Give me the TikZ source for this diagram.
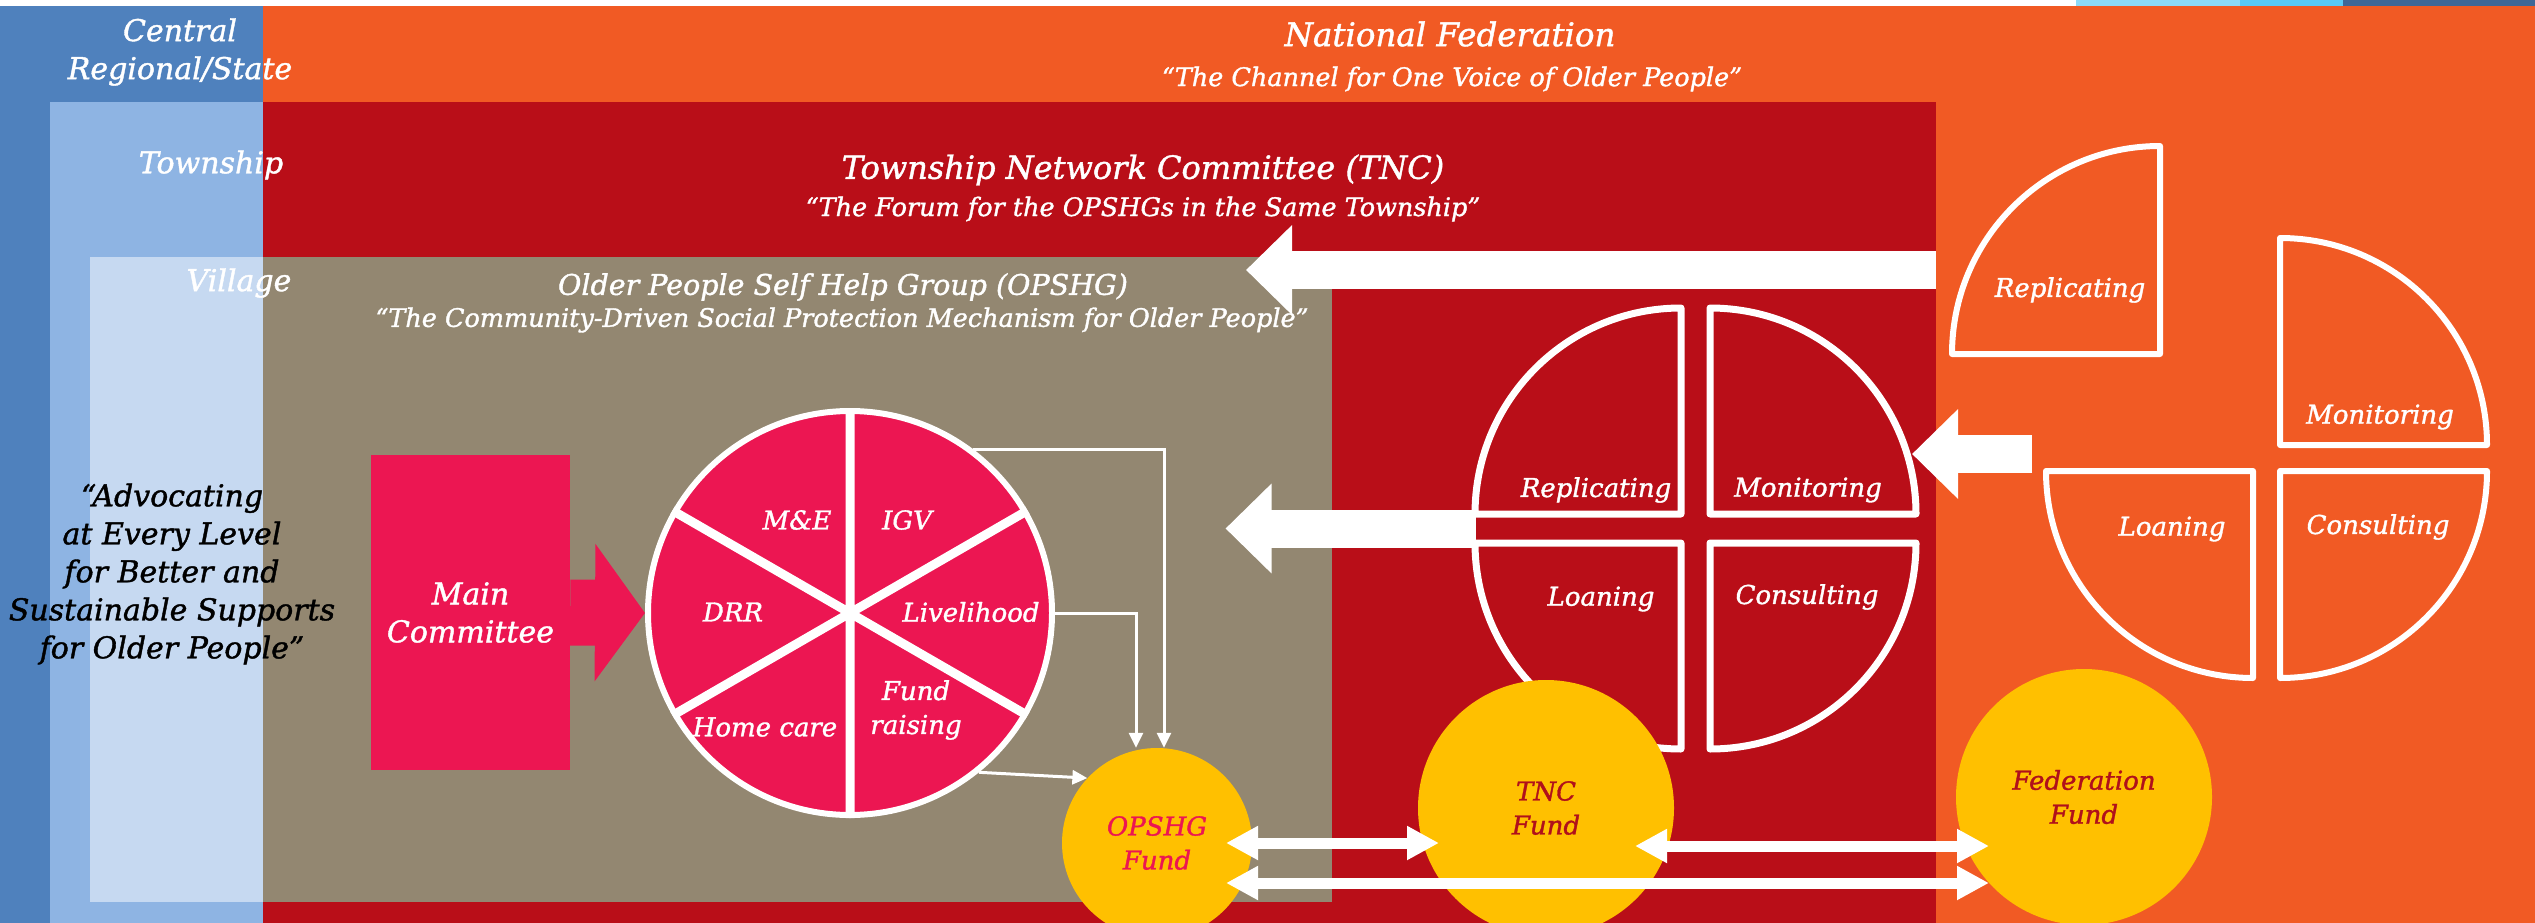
\documentclass[tikz,border=0pt]{standalone}
\usepackage{fontspec}
\setmainfont{DejaVu Serif}[ItalicFeatures={FakeBold=1.3}]
\usetikzlibrary{arrows.meta,calc}

\definecolor{darkblue}{HTML}{4F81BD}
\definecolor{midblue}{HTML}{8EB4E3}
\definecolor{lightblue}{HTML}{C6D9F1}
\definecolor{fedorange}{HTML}{F15A24}
\definecolor{tncred}{HTML}{B90E18}
\definecolor{taupe}{HTML}{938771}
\definecolor{pink}{HTML}{EC1652}
\definecolor{gold}{HTML}{FFC000}
\definecolor{fundred}{HTML}{B0101B}

\begin{document}
\begin{tikzpicture}[x=1pt, y=1pt, yscale=-1,
    txt/.style={inner sep=0pt, text=white, align=center, font=\itshape\fontsize{30}{38}\selectfont},
    smalltxt/.style={txt, font=\itshape\fontsize{26}{34}\selectfont},
    quotetxt/.style={txt, font=\itshape\fontsize{25.5}{30}\selectfont},
    quadline/.style={draw=white, line width=7pt, line join=round},
    bigarrow/.style={white, line width=38pt, -{Triangle[length=46pt, width=87pt]}},
    thinarrow/.style={white, line width=3pt, -{Triangle[length=15pt, width=14pt]}},
    fundarrow/.style={white, line width=11pt, {Triangle[length=32pt, width=32pt]}-{Triangle[length=32pt, width=32pt]}},
    fundnode/.style={circle, fill=gold, inner sep=0pt, align=center, font=\itshape\fontsize{26}{34}\selectfont}]

    \clip (0,0) rectangle (2535,923);
    \fill[white] (0,0) rectangle (2535,923);
    \fill[cyan!45] (2076,0) rectangle (2240,6);
    \fill[cyan!65] (2240,0) rectangle (2343,6);
    \fill[darkblue!80!black] (2343,0) rectangle (2535,6);

    % levels
    \fill[fedorange] (263,6) rectangle (2535,923);
    \fill[darkblue] (0,6) rectangle (263,923);
    \fill[midblue] (50,102) rectangle (263,923);
    \fill[tncred] (263,102) rectangle (1936,923);
    \fill[lightblue] (90,257) rectangle (263,902);
    \fill[taupe] (263,257) rectangle (1332,902);

    \node[txt] (central) at (180,52) {Central\\Regional/State};
    \node[txt] (township) at (211,165) {Township};
    \node[txt] (village) at (239,283) {Village};
    \node[txt, font=\itshape\fontsize{32.5}{38}\selectfont] (natfed) at (1450,34) {National Federation};
    \node[quotetxt] (natquote) at (1452,79) {“The Channel for One Voice of Older People”};
    \node[txt, font=\itshape\fontsize{32}{38}\selectfont] (tnctitle) at (1143,170) {Township Network Committee (TNC)};
    \node[quotetxt] (tncquote) at (1143,209) {“The Forum for the OPSHGs in the Same Township”};
    \node[txt, font=\itshape\fontsize{28.5}{38}\selectfont] (opstitle) at (843,287) {Older People Self Help Group (OPSHG)};
    \node[quotetxt] (opsquote) at (842,320) {“The Community-Driven Social Protection Mechanism for Older People”};
    \node[txt, text=black] (advocate) at (172,574) {“Advocating\\at Every Level\\for Better and\\Sustainable Supports\\for Older People”};

    % arrows down the levels
    \coordinate (fedout) at (1936,270);
    \coordinate (opsin) at (1246,270);
    \coordinate (tnc) at (1695.5,528.5);
    \coordinate (fedarm) at (2032,454);
    \draw[bigarrow] (fedout) -- (opsin);
    \draw[bigarrow] ($(tnc)+(-220,0)$) -- ($(tnc)+(-470,0)$);
    \draw[bigarrow] (fedarm) -- ($(tnc)+(216.5,-74.5)$);

    % TNC circle
    \draw[quadline] (1681,514) -- (1475,514) arc[start angle=180, end angle=270, radius=206] -- cycle;
    \draw[quadline] (1710,514) -- (1710,308) arc[start angle=270, end angle=360, radius=206] -- cycle;
    \draw[quadline] (1681,543) -- (1681,749) arc[start angle=90, end angle=180, radius=206] -- cycle;
    \draw[quadline] (1710,543) -- (1916,543) arc[start angle=0, end angle=90, radius=206] -- cycle;
    \node[smalltxt] (tncrep) at (1596,490) {Replicating};
    \node[smalltxt] (tncmon) at (1808,490) {Monitoring};
    \node[smalltxt] (tncloan) at (1601,599) {Loaning};
    \node[smalltxt] (tnccons) at (1807,597) {Consulting};

    % federation circle
    \draw[quadline, line width=6pt] (2160,354) -- (1952,354) arc[start angle=180, end angle=270, radius=208] -- cycle;
    \draw[quadline, line width=6pt] (2280,445) -- (2280,238) arc[start angle=270, end angle=360, radius=207] -- cycle;
    \draw[quadline, line width=6pt] (2253,471) -- (2253,678) arc[start angle=90, end angle=180, radius=207] -- cycle;
    \draw[quadline, line width=6pt] (2280,471) -- (2487,471) arc[start angle=0, end angle=90, radius=207] -- cycle;
    \node[smalltxt] (fedrep) at (2070,290) {Replicating};
    \node[smalltxt] (fedmon) at (2380,417) {Monitoring};
    \node[smalltxt] (fedloan) at (2172,529) {Loaning};
    \node[smalltxt] (fedcons) at (2378,527) {Consulting};

    % OPSHG
    \node[circle, minimum size=404pt, inner sep=0pt, fill=pink, draw=white, line width=6pt] (pie) at (850,613) {};
    \draw[white, line width=9pt] (pie.north) -- (pie.south) (pie.30) -- (pie.210) (pie.150) -- (pie.330);
    \node[smalltxt] (me) at (797,520) {M\&E};
    \node[smalltxt] (igv) at (907,520) {IGV};
    \node[smalltxt] (drr) at (733,612) {DRR};
    \node[smalltxt] (livelihood) at (971,612) {Livelihood};
    \node[smalltxt] (homecare) at (765,727) {Home care};
    \node[smalltxt] (fundraising) at (916,710) {Fund\\raising};

    \node[txt, fill=pink, minimum width=199pt, minimum height=315pt] (mc) at (470.5,612.5) {Main\\Committee};
    \draw[pink, line width=66pt, -{Triangle[length=50pt, width=135pt]}] (mc.east) -- (pie.west);

    % funds
    \node[fundnode, minimum size=190pt, text=pink] (opf) at (1157,843) {OPSHG\\Fund};
    \node[fundnode, minimum size=256pt, text=fundred] (tncf) at (1546,808) {TNC\\Fund};
    \node[fundnode, minimum size=256pt, text=fundred] (fedf) at (2084,797) {Federation\\Fund};

    \draw[thinarrow] (pie.53) -| ($(opf.north)+(7,0)$);
    \draw[thinarrow] (pie.east) -| ($(opf.north)+(-21,0)$);
    \draw[thinarrow] (pie.309) -- (opf.137);

    \draw[fundarrow] ($(opf)+(69,0)$) -- ($(tncf)+(-107,35)$);
    \draw[fundarrow] ($(tncf)+(89,38)$) -- ($(fedf)+(-95,49)$);
    \draw[fundarrow] ($(opf)+(69,40)$) -- ($(fedf)+(-95,86)$);
\end{tikzpicture}
\end{document}
